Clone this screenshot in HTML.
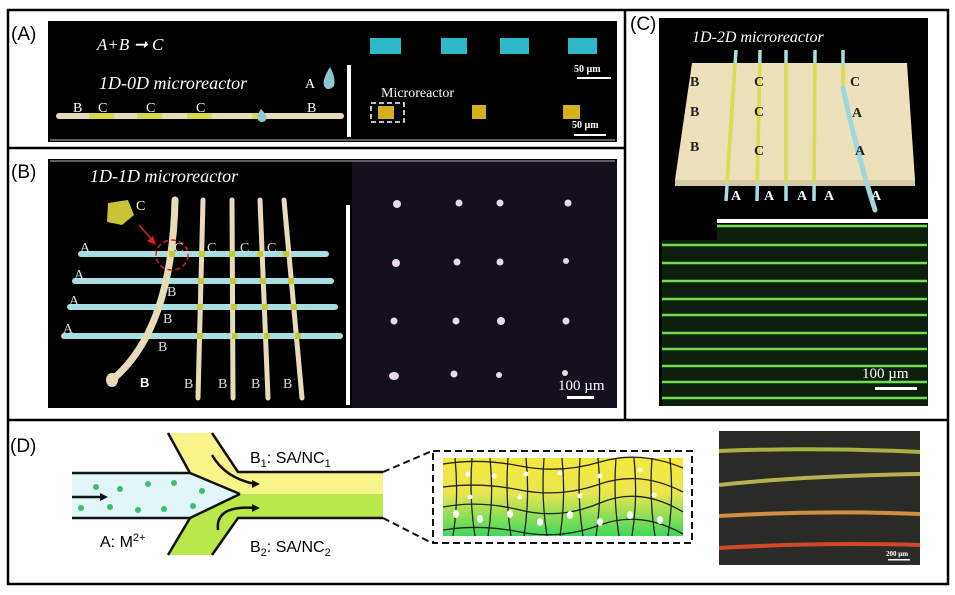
<!DOCTYPE html>
<html><head><meta charset="utf-8"><style>
html,body{margin:0;padding:0;background:#fff;width:955px;height:595px;overflow:hidden}
svg{display:block}
.s{font-family:"Liberation Serif",serif}
.a{font-family:"Liberation Sans",sans-serif}
</style></head><body>
<svg width="955" height="595" viewBox="0 0 955 595">
<defs>
<linearGradient id="gy" x1="0" y1="0" x2="0" y2="1"><stop offset="0" stop-color="#f6e83a"/><stop offset="0.45" stop-color="#e8e650"/><stop offset="1" stop-color="#3fd85a"/></linearGradient>
</defs>
<rect x="8" y="10" width="940" height="574" fill="none" stroke="#000" stroke-width="2.5"/>
<line x1="8" y1="148" x2="625" y2="148" stroke="#000" stroke-width="2.5"/>
<line x1="625" y1="10" x2="625" y2="420" stroke="#000" stroke-width="2.5"/>
<line x1="8" y1="420" x2="948" y2="420" stroke="#000" stroke-width="2.5"/>

<!-- Panel A -->
<text x="11" y="40" class="a" font-size="19">(A)</text>
<rect x="48" y="21" width="569" height="121" fill="#000"/>
<line x1="50" y1="140" x2="615" y2="140" stroke="#bbb" stroke-width="1"/>
<text x="97" y="50" class="s" font-size="17" font-style="italic" fill="#fff">A+B ➞ C</text>
<text x="99" y="89" class="s" font-size="18" font-style="italic" fill="#fff">1D-0D microreactor</text>
<rect x="56" y="113" width="288" height="6" rx="3" fill="#e4dcb4"/>
<rect x="89" y="113" width="25" height="6" fill="#d5d84a"/>
<rect x="137" y="113" width="25" height="6" fill="#d5d84a"/>
<rect x="187" y="113" width="25" height="6" fill="#d5d84a"/>
<rect x="252" y="113" width="12" height="6" fill="#d5d84a"/>
<g class="s" font-size="14" fill="#fff"><text x="73" y="112">B</text><text x="98" y="112">C</text><text x="146" y="112">C</text><text x="196" y="112">C</text><text x="307" y="112">B</text><text x="305" y="88">A</text></g>
<path d="M330 67 Q322 80 324 86 Q328 92 334 86 Q336 78 330 67Z" fill="#8fc9d0"/>
<path d="M261 109 Q256 116 258 120 Q262 124 266 120 Q268 116 261 109Z" fill="#8fc9d0"/>
<rect x="347" y="65" width="4" height="72" fill="#fff"/>
<g fill="#2fb8c8"><rect x="370" y="38" width="31" height="16"/><rect x="441" y="38" width="26" height="16"/><rect x="500" y="38" width="29" height="16"/><rect x="568" y="38" width="29" height="16"/></g>
<text x="574" y="72" class="s" font-size="10" font-weight="bold" fill="#fff">50 µm</text>
<rect x="577" y="77" width="34" height="2" fill="#fff"/>
<text x="381" y="97" class="s" font-size="14" fill="#fff">Microreactor</text>
<rect x="371" y="103" width="33" height="19" fill="none" stroke="#fff" stroke-width="1.5" stroke-dasharray="5,3"/>
<g fill="#d4b020"><rect x="378" y="106" width="16" height="13"/><rect x="472" y="105" width="14" height="14"/><rect x="563" y="105" width="17" height="14"/></g>
<text x="572" y="128" class="s" font-size="10" font-weight="bold" fill="#fff">50 µm</text>
<rect x="574" y="134" width="32" height="2" fill="#fff"/>

<!-- Panel B -->
<text x="11" y="178" class="a" font-size="19">(B)</text>
<rect x="48" y="159" width="569" height="249" fill="#000"/>
<line x1="50" y1="161" x2="615" y2="161" stroke="#bbb" stroke-width="1"/>
<rect x="352" y="162" width="265" height="246" fill="#130f1c"/>
<text x="90" y="182" class="s" font-size="18" font-style="italic" fill="#fff">1D-1D microreactor</text>
<path d="M108 203 L128 200 L134 215 L122 225 L107 222Z" fill="#c9c436"/>
<text x="136" y="210" class="s" font-size="14" fill="#fff">C</text>
<line x1="139" y1="225" x2="153" y2="241" stroke="#e02020" stroke-width="1.5"/>
<path d="M156 245 L147 241 L153 236Z" fill="#e02020"/>
<g stroke="#a9dde4" stroke-width="6" stroke-linecap="round">
<line x1="81" y1="254" x2="326" y2="254"/><line x1="75" y1="281" x2="331" y2="281"/><line x1="70" y1="307" x2="335" y2="307"/><line x1="64" y1="336" x2="340" y2="336"/></g>
<g stroke="#e6dcb8" stroke-width="5" stroke-linecap="round">
<line x1="203" y1="200" x2="198" y2="398"/><line x1="232" y1="200" x2="233" y2="398"/><line x1="260" y1="200" x2="268" y2="398"/><line x1="284" y1="200" x2="302" y2="398"/>
<path d="M175 200 Q172 330 112 380" fill="none" stroke-width="7"/></g>
<ellipse cx="112" cy="380" rx="6" ry="7" fill="#e6dcb8"/>
<g fill="#c8c830"><rect x="169" y="251" width="6" height="6"/><rect x="199" y="251" width="6" height="6"/><rect x="229" y="251" width="6" height="6"/><rect x="257" y="251" width="6" height="6"/><rect x="283" y="251" width="6" height="6"/>
<rect x="198" y="278" width="6" height="6"/><rect x="230" y="278" width="6" height="6"/><rect x="260" y="278" width="6" height="6"/><rect x="288" y="278" width="6" height="6"/>
<rect x="197" y="304" width="6" height="6"/><rect x="231" y="304" width="6" height="6"/><rect x="262" y="304" width="6" height="6"/><rect x="291" y="304" width="6" height="6"/>
<rect x="197" y="333" width="6" height="6"/><rect x="232" y="333" width="6" height="6"/><rect x="264" y="333" width="6" height="6"/><rect x="295" y="333" width="6" height="6"/></g>
<ellipse cx="172" cy="255" rx="16" ry="15" fill="none" stroke="#e02020" stroke-width="1.5" stroke-dasharray="5,3"/>
<g class="s" font-size="14" fill="#ddd"><text x="80" y="252">A</text><text x="74" y="279">A</text><text x="69" y="305">A</text><text x="63" y="333">A</text>
<text x="174" y="252">C</text><text x="207" y="252">C</text><text x="240" y="252">C</text><text x="267" y="252">C</text>
<text x="167" y="296">B</text><text x="163" y="323">B</text><text x="158" y="351">B</text><text x="184" y="388">B</text><text x="218" y="388">B</text><text x="251" y="388">B</text><text x="283" y="388">B</text></g>
<text x="140" y="387" class="a" font-size="13" font-weight="bold" fill="#fff">B</text>
<rect x="346" y="205" width="4" height="200" fill="#fff"/>
<g fill="#e8d8f0"><circle cx="397" cy="204" r="4"/><circle cx="459" cy="203" r="3.5"/><circle cx="500" cy="203" r="3.5"/><circle cx="568" cy="203" r="3.5"/>
<circle cx="396" cy="263" r="4"/><circle cx="457" cy="262" r="3.5"/><circle cx="500" cy="262" r="3.5"/><circle cx="566" cy="261" r="3"/>
<circle cx="394" cy="321" r="3.5"/><circle cx="456" cy="321" r="3.5"/><circle cx="501" cy="321" r="4"/><circle cx="566" cy="321" r="3.5"/>
<ellipse cx="394" cy="376" rx="5" ry="4"/><circle cx="454" cy="374" r="3.5"/><circle cx="499" cy="375" r="3"/><circle cx="565" cy="373" r="3"/></g>
<text x="558" y="390" class="s" font-size="15" fill="#fff">100 µm</text>
<rect x="567" y="396" width="27" height="3" fill="#fff"/>

<!-- Panel C -->
<text x="630" y="30" class="a" font-size="19">(C)</text>
<rect x="659" y="18" width="269" height="388" fill="#000"/>
<text x="692" y="42" class="s" font-size="16" font-style="italic" fill="#fff">1D-2D microreactor</text>
<polygon points="692,63 907,63 915,180 675,180" fill="#ede1bc"/>
<polygon points="675,180 915,180 915,186 675,186" fill="#d4c8a0"/>
<g stroke="#a9dde4" stroke-width="3.5"><line x1="736" y1="50" x2="726" y2="201"/><line x1="760" y1="50" x2="757" y2="201"/><line x1="786" y1="50" x2="786" y2="201"/><line x1="815" y1="50" x2="814" y2="201"/><line x1="843" y1="50" x2="843" y2="80"/></g>
<g stroke="#dddc50" stroke-width="3.5"><line x1="735" y1="63" x2="727" y2="183"/><line x1="760" y1="63" x2="757" y2="183"/><line x1="786" y1="63" x2="786" y2="183"/><line x1="815" y1="63" x2="814" y2="183"/><line x1="843" y1="66" x2="843" y2="88"/></g>
<path d="M843 88 Q856 150 875 210" fill="none" stroke="#9fd5de" stroke-width="5" stroke-linecap="round"/>
<g class="s" font-size="14" font-weight="bold" fill="#222"><text x="690" y="86">B</text><text x="690" y="116">B</text><text x="690" y="151">B</text><text x="754" y="86">C</text><text x="754" y="116">C</text><text x="754" y="155">C</text><text x="850" y="86">C</text><text x="852" y="117">A</text><text x="855" y="155">A</text></g>
<g class="s" font-size="14" font-weight="bold" fill="#fff"><text x="731" y="200">A</text><text x="764" y="200">A</text><text x="797" y="200">A</text><text x="824" y="200">A</text><text x="871" y="200">A</text></g>
<rect x="717" y="219" width="211" height="4" fill="#fff"/>
<rect x="662" y="224" width="266" height="182" fill="#0b1f0c"/>
<rect x="659" y="223" width="58" height="17" fill="#000"/>
<g stroke="#6ee04a" stroke-width="2.5"><line x1="717" y1="226" x2="927" y2="226"/><line x1="662" y1="245" x2="927" y2="245"/><line x1="662" y1="263" x2="927" y2="263"/><line x1="662" y1="281" x2="927" y2="281"/><line x1="662" y1="299" x2="927" y2="299"/><line x1="662" y1="315" x2="927" y2="315"/><line x1="662" y1="333" x2="927" y2="333"/><line x1="662" y1="349" x2="927" y2="349"/><line x1="662" y1="366" x2="927" y2="366"/><line x1="662" y1="382" x2="927" y2="382"/><line x1="662" y1="398" x2="927" y2="398"/></g>
<text x="862" y="378" class="s" font-size="15" fill="#fff">100 µm</text>
<rect x="875" y="387" width="42" height="3" fill="#fff"/>

<!-- Panel D -->
<text x="10" y="452" class="a" font-size="19">(D)</text>
<polygon points="168,433 212,433 238,472 383,472 383,494 240,494 190,473" fill="#f7f58a"/>
<polygon points="240,494 383,494 383,518 238,518 212,555 168,555 190,518" fill="#b8e84a"/>
<polygon points="72,473 190,473 240,494 190,518 72,518" fill="#e2f6fa"/>
<g stroke="#111" stroke-width="2.5" fill="none">
<polyline points="72,473 190,473 168,433"/><polyline points="212,433 238,472 383,472"/>
<polyline points="72,518 190,518 168,555"/><polyline points="212,555 238,518 383,518"/>
<line x1="190" y1="473" x2="240" y2="494"/><line x1="190" y1="518" x2="240" y2="494"/>
<path d="M212 455 Q225 478 255 484"/><path d="M218 530 Q215 505 255 508"/>
<line x1="72" y1="497" x2="100" y2="497"/></g>
<g fill="#111"><path d="M260 484 L252 480 L252 488Z"/><path d="M260 508 L252 504 L252 512Z"/><path d="M108 497 L100 493 L100 501Z"/></g>
<g fill="#3cbf6a"><circle cx="96" cy="487" r="3"/><circle cx="120" cy="489" r="3"/><circle cx="148" cy="484" r="3"/><circle cx="174" cy="483" r="3"/><circle cx="202" cy="491" r="3"/><circle cx="81" cy="508" r="3"/><circle cx="110" cy="507" r="3"/><circle cx="138" cy="510" r="3"/><circle cx="164" cy="509" r="3"/><circle cx="193" cy="506" r="3"/></g>
<text x="250" y="463" class="a" font-size="16">B<tspan font-size="11" dy="4">1</tspan><tspan dy="-4">: SA/NC</tspan><tspan font-size="11" dy="4">1</tspan></text>
<text x="250" y="552" class="a" font-size="16">B<tspan font-size="11" dy="4">2</tspan><tspan dy="-4">: SA/NC</tspan><tspan font-size="11" dy="4">2</tspan></text>
<text x="100" y="547" class="a" font-size="16">A: M<tspan font-size="11" dy="-6">2+</tspan></text>
<line x1="383" y1="472" x2="432" y2="451" stroke="#111" stroke-width="2" stroke-dasharray="7,4"/>
<line x1="383" y1="518" x2="432" y2="543" stroke="#111" stroke-width="2" stroke-dasharray="7,4"/>
<rect x="433" y="451" width="259" height="92" fill="none" stroke="#111" stroke-width="2" stroke-dasharray="7,4"/>
<rect x="443" y="458" width="240" height="78" fill="url(#gy)"/>
<g stroke="#222" stroke-width="1.3" fill="none">
<path d="M443 464 Q480 458 520 466 T600 462 T683 468"/><path d="M443 487 Q480 482 520 490 T600 484 T683 492"/><path d="M443 507 Q480 500 520 510 T600 503 T683 512"/><path d="M443 530 Q480 524 520 532 T600 525 T683 534"/>
<path d="M455 458 q4 40 -2 78"/><path d="M472 458 q-3 40 3 78"/><path d="M490 458 q4 40 -2 78"/><path d="M508 458 q-3 40 3 78"/><path d="M526 458 q4 40 -2 78"/><path d="M544 458 q-3 40 3 78"/><path d="M562 458 q4 40 -2 78"/><path d="M580 458 q-3 40 3 78"/><path d="M598 458 q4 40 -2 78"/><path d="M616 458 q-3 40 3 78"/><path d="M634 458 q4 40 -2 78"/><path d="M652 458 q-3 40 3 78"/><path d="M670 458 q4 40 -2 78"/></g>
<g fill="#fff"><circle cx="468" cy="474" r="2.5"/><circle cx="494" cy="476" r="2.5"/><circle cx="526" cy="474" r="2.5"/><circle cx="560" cy="473" r="2.5"/><circle cx="600" cy="476" r="2.5"/><circle cx="640" cy="470" r="2.5"/><circle cx="470" cy="497" r="2.5"/><circle cx="520" cy="497" r="2.5"/><circle cx="580" cy="496" r="2.5"/><circle cx="654" cy="495" r="2.5"/>
<ellipse cx="456" cy="514" rx="3" ry="4"/><ellipse cx="480" cy="519" rx="3" ry="4"/><ellipse cx="510" cy="514" rx="3" ry="4"/><ellipse cx="540" cy="522" rx="3" ry="4"/><ellipse cx="570" cy="515" rx="3" ry="4"/><ellipse cx="600" cy="522" rx="3" ry="4"/><ellipse cx="630" cy="515" rx="3" ry="4"/><ellipse cx="660" cy="520" rx="3" ry="4"/></g>
<rect x="719" y="431" width="201" height="134" fill="#2a2a26"/>
<path d="M719 451 Q820 447 920 452" stroke="#a8b040" stroke-width="4" fill="none"/>
<path d="M719 485 Q800 476 920 474" stroke="#b8b050" stroke-width="4" fill="none"/>
<path d="M719 516 Q820 510 920 514" stroke="#d09040" stroke-width="4" fill="none"/>
<path d="M719 548 Q820 542 920 545" stroke="#d04828" stroke-width="4" fill="none"/>
<text x="886" y="556" class="s" font-size="7" font-weight="bold" fill="#fff">200 µm</text>
<rect x="888" y="559" width="22" height="1.5" fill="#fff"/>
</svg>
</body></html>
